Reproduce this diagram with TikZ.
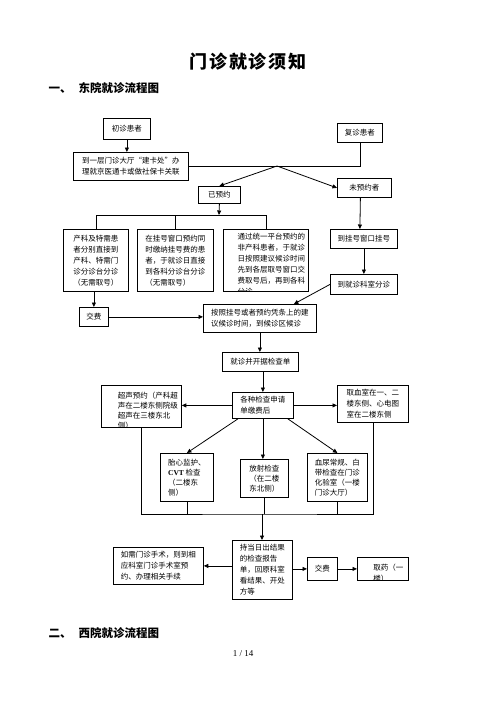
\documentclass[tikz,border=0pt]{standalone}
\usepackage{fontspec}
\setmainfont{Liberation Serif}
\newfontfamily\cjk{Noto Sans CJK SC}
\usepackage{tikz}
\usetikzlibrary{arrows.meta}

\begin{document}
\begin{tikzpicture}[
                x=1pt, y=-1pt,
                box/.style={draw, line width=0.8pt, anchor=north west, inner sep=0pt, align=left,
                            font=\cjk\fontsize{7.5}{11}\selectfont}, % one box of the chart
                boxtext/.style={anchor=north west, align=left, inner sep=0pt,
                                font=\cjk\fontsize{7.5}{11}\selectfont}, % text cut off by its box
                flow/.style={line width=0.8pt, -{Triangle[length=4.5pt, width=4pt]}}, % arrow
                link/.style={line width=0.8pt} % plain line
                ]
                \useasboundingbox (0,0) rectangle (496,702);

                % headings
                \node[font=\cjk\bfseries\fontsize{18}{18}\selectfont] (title) at (248,62) {门\kern1.8pt 诊\kern1.8pt 就\kern1.8pt 诊\kern1.8pt 须\kern1.8pt 知};
                \node[anchor=west, font=\cjk\bfseries\fontsize{11.5}{12}\selectfont] (east) at (45,88) {一、\hspace{7pt}东院就诊流程图};
                \node[anchor=west, font=\cjk\bfseries\fontsize{11.5}{12}\selectfont] (west) at (45,633) {二、\hspace{7pt}西院就诊流程图};
                \node[font=\fontsize{9}{9}\selectfont] (page) at (243,654) {1 / 14};

                % first part
                \node[box, minimum width=47pt, minimum height=21pt] (first) at (103,118) {初诊患者};
                \node[box, minimum width=45pt, minimum height=19pt] (revisit) at (337,123) {复诊患者};
                \node[box, minimum width=115pt, minimum height=28pt] (card) at (73,152) {到一层门诊大厅“建卡处”办\\理就京医通卡或做社保卡关联};
                \node[box, minimum width=42pt, minimum height=17pt] (booked) at (198,186) {已预约};
                \node[box, minimum width=54pt, minimum height=19pt] (unbooked) at (337,178) {未预约者};

                \node[box, minimum width=65pt, minimum height=62pt] (obst) at (63,229) {产科及特需患\\者分别直接到\\产科、特需门\\诊分诊台分诊\\（无需取号）};
                \node[box, minimum width=76pt, minimum height=62pt] (window) at (137,229) {在挂号窗口预约同\\时缴纳挂号费的患\\者，于就诊日直接\\到各科分诊台分诊\\（无需取号）};
                \node[box, minimum width=85pt, minimum height=62pt,
                      path picture={\node[boxtext] at ([shift={(5pt,-3pt)}]path picture bounding box.north west)
                      {通过统一平台预约的\\非产科患者，于就诊\\日按照建议候诊时间\\先到各层取号窗口交\\费取号后，再到各科\\分诊};}] (platform) at (223,229) {};
                \node[box, minimum width=67pt, minimum height=19pt] (reg) at (330,229) {到挂号窗口挂号};
                \node[box, minimum width=67pt, minimum height=20pt] (triage) at (330,274) {到就诊科室分诊};

                \node[box, minimum width=29pt, minimum height=19pt] (payfirst) at (79,307) {交费};
                \node[box, minimum width=113pt, minimum height=28pt] (wait) at (203,304) {按照挂号或者预约凭条上的建\\议候诊时间，到候诊区候诊};
                \node[box, minimum width=76pt, minimum height=19pt] (visit) at (222,352) {就诊并开据检查单};

                % examinations
                \node[box, minimum width=61pt, minimum height=26pt] (exam) at (232,392) {各种检查申请\\单缴费后};
                \node[box, minimum width=80pt, minimum height=42pt,
                      path picture={\node[boxtext, font=\cjk\fontsize{7.5}{10}\selectfont] at ([shift={(6pt,-4pt)}]path picture bounding box.north west)
                      {超声预约（产科超\\声在二楼东侧院级\\超声在三楼东北\\侧）};}] (ultra) at (101,385) {};
                \node[box, minimum width=71pt, minimum height=37pt] (blood) at (337,385) {取血室在一、二\\楼东侧、心电图\\室在二楼东侧};
                \node[box, minimum width=53pt, minimum height=48pt, font=\cjk\fontsize{7.5}{10}\selectfont] (fetal) at (160,453) {胎心监护、\\{\rmfamily\bfseries CVT} 检查\\（二楼东\\侧）};
                \node[box, minimum width=48pt, minimum height=38pt, font=\cjk\fontsize{7.5}{10}\selectfont] (xray) at (240,459) {放射检查\\（在二楼\\东北侧）};
                \node[box, minimum width=60pt, minimum height=48pt, font=\cjk\fontsize{7.5}{10}\selectfont] (urine) at (307,453) {血尿常规、白\\带检查在门诊\\化验室（一楼\\门诊大厅）};

                % results
                \node[box, minimum width=60pt, minimum height=59pt] (report) at (232,540) {持当日出结果\\的检查报告\\单，回原科室\\看结果、开处\\方等};
                \node[box, minimum width=90pt, minimum height=37pt] (surgery) at (113,547) {如需门诊手术，则到相\\应科室门诊手术室预\\约、办理相关手续};
                \node[box, minimum width=30pt, minimum height=23pt] (paysecond) at (307,557) {交费};
                \node[box, minimum width=51pt, minimum height=23pt,
                      path picture={\node[boxtext] at ([shift={(5pt,-4pt)}]path picture bounding box.north west)
                      {取药（一\\楼）};}] (drug) at (357,557) {};

                \coordinate (split) at (277,166);
                \coordinate (bar) at (219,215);
                \coordinate (merge) at (262,514);

                % connectors
                \draw[flow] (first.south) -- (first.south |- card.north);
                \draw[link] (card.east) -- (revisit.south |- card.east) -- (revisit.south);
                \draw[flow] (split) -- (booked.north);
                \draw[flow] (split) -- (unbooked.west);
                \draw[flow] ([xshift=-4pt]unbooked.south) -- ([xshift=-4pt]reg.north);
                \draw[flow] (reg.south) -- (triage.north);
                \draw[flow] (booked.south) -- (bar);
                \draw[link] (obst.north) -- (obst.north |- bar) -- (platform.north |- bar) -- (platform.north);
                \draw[link] (window.north) -- (window.north |- bar);
                \draw[flow] (payfirst.north |- obst.south) -- (payfirst.north);
                \draw[flow] (payfirst.east) -- (payfirst.east -| wait.west);
                \draw[flow] (triage.west) -- ([xshift=34pt]wait.north);
                \draw[flow] (wait.south) -- (wait.south |- visit.north);
                \draw[flow] (exam.north |- visit.south) -- (exam.north);
                \draw[flow] (exam.west) -- (exam.west -| ultra.east);
                \draw[flow] (exam.east) -- (exam.east -| blood.west);
                \draw[flow] ([xshift=6pt]exam.south west) -- (fetal.north);
                \draw[flow] (exam.south) -- (exam.south |- xray.north);
                \draw[flow] ([xshift=-6pt]exam.south east) -- (urine.north);
                \draw[link] (ultra.south) |- (merge) -| (blood.south);
                \draw[link] (fetal.south) -- (fetal.south |- merge);
                \draw[link] (urine.south) -- (urine.south |- merge);
                \draw[link] (xray.south) -- (xray.south |- merge);
                \draw[flow] (merge) -- (merge |- report.north);
                \draw[flow] (report.west |- surgery.east) -- (surgery.east);
                \draw[flow] (report.east |- paysecond.west) -- (paysecond.west);
                \draw[flow] (paysecond.east) -- (drug.west);
            \end{tikzpicture}
\end{document}
